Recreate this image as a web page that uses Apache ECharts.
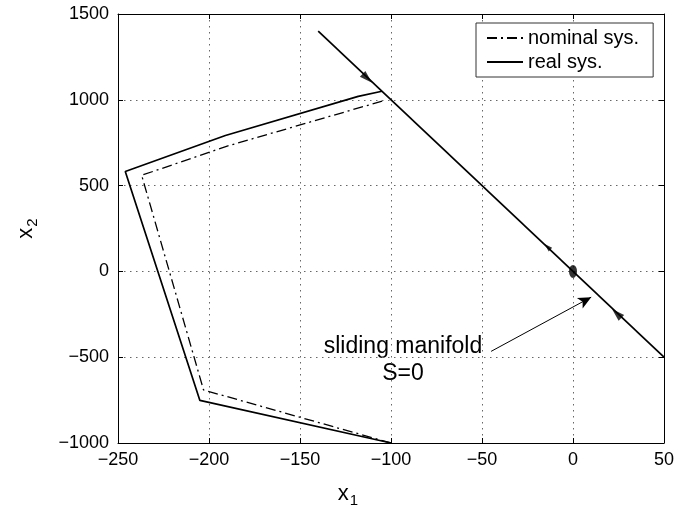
<!DOCTYPE html>
<html>
<head>
<meta charset="utf-8">
<script src="https://cdn.jsdelivr.net/npm/echarts@6/dist/echarts.min.js"></script>
<style>
  html, body { margin: 0; padding: 0; background: #fff; }
  #chart { width: 700px; height: 513px; }
</style>
</head>
<body>
<div id="chart"></div>
<script>
// sliding manifold S = 10*x1 + x2 = 0, travelled by the real system
const slideX = [-140, 50];
const slideY = [1400, -500];

// real system trajectory (solid)
const realX = [-100, -205, -246, -191, -118, -105];
const realY = [-1000, -752, 582, 792, 1020, 1050];

// nominal system trajectory (dash-dot)
const nomX = [-100, -203, -237, -190, -104];
const nomY = [-1000, -691, 560, 730, 995];

// arrow heads along the manifold: [x1, x2, direction]
const arrowX = [-113, 24, -14];
const arrowY = [1125, -245, 143];
const arrowDir = ["down", "up", "up"];

// annotation arrow (from text to manifold)
const noteFrom = [-45, -466];
const noteTo = [10, -150];

const zip = (xs, ys) => xs.map((x, i) => [x, ys[i]]);
const minus = (v) => String(v).replace("-", "\u2212");

const font = "Liberation Sans, Arial, Helvetica, sans-serif";
const black = "#000";

const chart = echarts.init(document.getElementById("chart"), null, { renderer: "canvas" });

const gridAxis = {
  axisLine: { show: true, onZero: false, lineStyle: { color: black, width: 1 } },
  axisTick: { show: true, inside: true, length: 5, lineStyle: { color: black } },
};

const subRich = {
  sub: { fontFamily: font, fontSize: 15, verticalAlign: "bottom", padding: [14, 0, 0, 1] },
};

const option = {
  backgroundColor: "#fff",
  animation: false,
  grid: { left: 118, right: 36, top: 14, bottom: 68, show: false },
  legend: {
    data: ["nominal sys.", "real sys."],
    orient: "vertical",
    left: 476,
    top: 23,
    padding: [5, 14, 5, 10],
    itemGap: 4,
    itemWidth: 36,
    itemHeight: 14,
    backgroundColor: "#fff",
    borderColor: "#333",
    borderWidth: 1,
    borderRadius: 0,
    itemStyle: { opacity: 0 },
    textStyle: { fontFamily: font, fontSize: 20, color: black },
  },
  xAxis: [
    {
      type: "value",
      min: -250,
      max: 50,
      interval: 50,
      ...gridAxis,
      axisLabel: { fontFamily: font, fontSize: 18, color: black, margin: 8, formatter: minus },
      splitLine: { show: true, lineStyle: { color: "#666", type: [1.5, 4.5], width: 1 } },
      name: "x{sub|1}",
      nameLocation: "middle",
      nameGap: 36,
      nameTextStyle: { fontFamily: font, fontSize: 22, color: black, padding: [0, 86, 0, 0], rich: subRich },
    },
    {
      type: "value",
      position: "top",
      min: -250,
      max: 50,
      interval: 50,
      ...gridAxis,
      axisLabel: { show: false },
      splitLine: { show: false },
    },
  ],
  yAxis: [
    {
      type: "value",
      min: -1000,
      max: 1500,
      interval: 500,
      ...gridAxis,
      axisLabel: { fontFamily: font, fontSize: 18, color: black, margin: 9, formatter: minus },
      splitLine: { show: true, lineStyle: { color: "#666", type: [1.5, 4.5], width: 1 } },
      name: "x{sub|2}",
      nameLocation: "middle",
      nameRotate: 90,
      nameGap: 78,
      nameTextStyle: { fontFamily: font, fontSize: 22, color: black, rich: subRich },
    },
    {
      type: "value",
      position: "right",
      min: -1000,
      max: 1500,
      interval: 500,
      ...gridAxis,
      axisLabel: { show: false },
      splitLine: { show: false },
    },
  ],
  series: [
    {
      name: "nominal sys.",
      type: "line",
      data: zip(nomX, nomY),
      symbol: "none",
      z: 3,
      itemStyle: { color: black },
      lineStyle: { color: black, width: 1.3, type: [10, 4, 2, 4] },
    },
    {
      name: "real sys.",
      type: "line",
      data: zip(realX, realY),
      symbol: "none",
      z: 4,
      itemStyle: { color: black },
      lineStyle: { color: black, width: 1.7, type: "solid" },
    },
    {
      name: "real sys.",
      type: "line",
      data: zip(slideX, slideY),
      symbol: "none",
      z: 4,
      itemStyle: { color: black },
      lineStyle: { color: black, width: 1.7, type: "solid" },
    },
    {
      name: "arrows",
      type: "scatter",
      z: 5,
      silent: true,
      data: arrowX.map((x, i) => ({
        value: [x, arrowY[i]],
        symbol: "triangle",
        symbolSize: i === 2 ? [5, 8] : [8, 13],
        symbolRotate: arrowDir[i] === "down" ? -133.5 : 46.5,
      })),
      itemStyle: { color: black },
      markLine: {
        silent: true,
        symbol: ["none", "arrow"],
        symbolSize: [9, 13],
        label: { show: false },
        lineStyle: { color: black, width: 1, type: "solid" },
        data: [[{ coord: noteFrom }, { coord: noteTo }]],
      },
    },
    {
      name: "origin",
      type: "scatter",
      z: 5,
      silent: true,
      data: [[0, 0]],
      symbol: "circle",
      symbolSize: [8, 13],
      itemStyle: { color: black },
    },
  ],
  graphic: [
    {
      type: "text",
      x: 403,
      y: 333,
      style: {
        text: "sliding manifold\nS=0",
        fontFamily: font,
        fontSize: 23,
        lineHeight: 27,
        align: "center",
        verticalAlign: "top",
        fill: black,
      },
    },
  ],
};

chart.setOption(option);
</script>
</body>
</html>
